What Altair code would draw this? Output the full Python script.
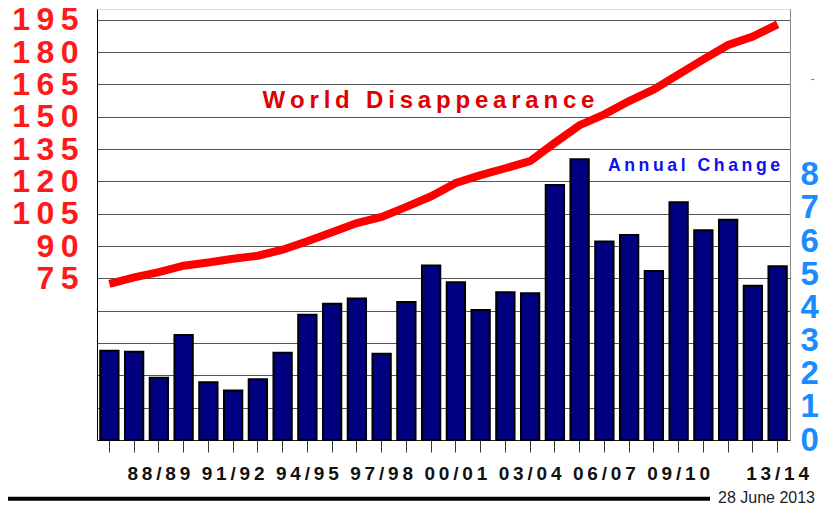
import altair as alt
import pandas as pd

seasons = ["86/87", "87/88", "88/89", "89/90", "90/91", "91/92", "92/93",
           "93/94", "94/95", "95/96", "96/97", "97/98", "98/99", "99/00",
           "00/01", "01/02", "02/03", "03/04", "04/05", "05/06", "06/07",
           "07/08", "08/09", "09/10", "10/11", "11/12", "12/13", "13/14"]
shown_labels = ["88/89", "91/92", "94/95", "97/98", "00/01", "03/04",
                "06/07", "09/10", "13/14"]
disappearance = [72.5, 75.5, 77.9, 80.9, 82.4, 84.1, 85.5, 88.3, 92.2, 96.4,
                 100.7, 103.5, 108.2, 113.1, 119.3, 122.9, 126.1, 129.4,
                 137.9, 146.1, 151.1, 157.3, 162.7, 169.7, 176.6, 183.3,
                 187.2, 192.9]
annual_change = [2.69, 2.66, 1.88, 3.17, 1.74, 1.49, 1.83, 2.63, 3.78, 4.11,
                 4.27, 2.60, 4.16, 5.26, 4.76, 3.92, 4.46, 4.43, 7.69, 8.47,
                 5.99, 6.18, 5.10, 7.17, 6.33, 6.64, 4.65, 5.24]
left_ticks = list(range(0, 196, 15))
right_ticks = list(range(0, 9))

title_main = "World Disappearance"
title_bars = "Annual Change"
footer = "28 June 2013"

THIN = "\u2009"
FONT = "Liberation Sans"


def spaced(s):
    return THIN.join(s)


df = pd.DataFrame({"season": seasons, "disappearance": disappearance,
                   "change": annual_change})

arr = "[" + ",".join("'" + s + "'" for s in shown_labels) + "]"
x_label_expr = ("indexof(" + arr + ", datum.label) >= 0 ? join(split(datum.label, ''), '"
                + THIN + "') : ''")

x_enc = alt.X(
    "season:N", sort=seasons,
    scale=alt.Scale(paddingInner=0.26, paddingOuter=0.13),
    axis=alt.Axis(title=None, labelAngle=0, labelExpr=x_label_expr,
                  labelFont=FONT, labelFontSize=19, labelFontWeight="bold",
                  labelColor="#111111", tickSize=12, tickColor="#333333",
                  tickWidth=1, labelPadding=12, domainColor="#222222",
                  labelOverlap=False),
)

bars = alt.Chart(df).mark_bar(color="#000080", stroke="#000000", strokeWidth=2).encode(
    x=x_enc,
    y=alt.Y("change:Q",
            scale=alt.Scale(domain=[0, 13], nice=False, zero=True),
            axis=alt.Axis(orient="right", title=None, values=right_ticks,
                          grid=False, ticks=False, domainColor="#888888",
                          labelFont=FONT, labelFontSize=33,
                          labelFontWeight="bold", labelColor="#1a8cff",
                          labelPadding=10, labelOverlap=False)),
)

left_label_expr = ("datum.value >= 75 ? join(split(datum.label, ''), '"
                   + THIN + "') : ''")

line = alt.Chart(df).mark_line(color="#ff0000", strokeWidth=8).encode(
    x=x_enc,
    y=alt.Y("disappearance:Q",
            scale=alt.Scale(domain=[0, 200], nice=False, zero=True),
            axis=alt.Axis(orient="left", title=None, values=left_ticks,
                          grid=True, gridColor="#555555", gridWidth=1,
                          ticks=False, domainColor="#000000",
                          labelExpr=left_label_expr, labelFont=FONT,
                          labelFontSize=32, labelFontWeight="bold",
                          labelColor="#ff1a1a", labelPadding=19,
                          labelOverlap=False)),
)

ann = pd.DataFrame({"t": [spaced(title_main)]})
t_main = alt.Chart(ann).mark_text(
    font=FONT, fontSize=24, fontWeight="bold", color="#e00000",
    align="center", baseline="alphabetic").encode(
    x=alt.value(331.5), y=alt.value(98.7), text="t:N")

ann2 = pd.DataFrame({"t": [spaced(title_bars)]})
t_bars = alt.Chart(ann2).mark_text(
    font=FONT, fontSize=17.7, fontWeight="bold", color="#1010ee",
    align="center", baseline="alphabetic").encode(
    x=alt.value(597), y=alt.value(162), text="t:N")

ann3 = pd.DataFrame({"t": [footer]})
t_foot = alt.Chart(ann3).mark_text(
    font=FONT, fontSize=16, color="#222222",
    align="left", baseline="alphabetic").encode(
    x=alt.value(621), y=alt.value(494.3), text="t:N")

ann4 = pd.DataFrame({"t": ["-"]})
t_dash = alt.Chart(ann4).mark_text(
    font=FONT, fontSize=12, color="#1a8cff",
    align="center", baseline="middle").encode(
    x=alt.value(715.5), y=alt.value(70.3), text="t:N")

rule_bottom = alt.Chart(ann3).mark_rule(color="#000000", strokeWidth=4).encode(
    x=alt.value(-89), x2=alt.value(613), y=alt.value(489.8))

chart = alt.layer(bars, line, t_main, t_bars, t_foot, t_dash, rule_bottom).resolve_scale(
    y="independent"
).properties(
    width=693, height=431,
    autosize=alt.AutoSizeParams(type="none"),
    padding={"left": 89, "top": 1, "right": 29, "bottom": 65},
).configure_view(stroke=None).configure(font=FONT)

chart.save("out.html", embed_options={"renderer": "svg", "actions": False})
